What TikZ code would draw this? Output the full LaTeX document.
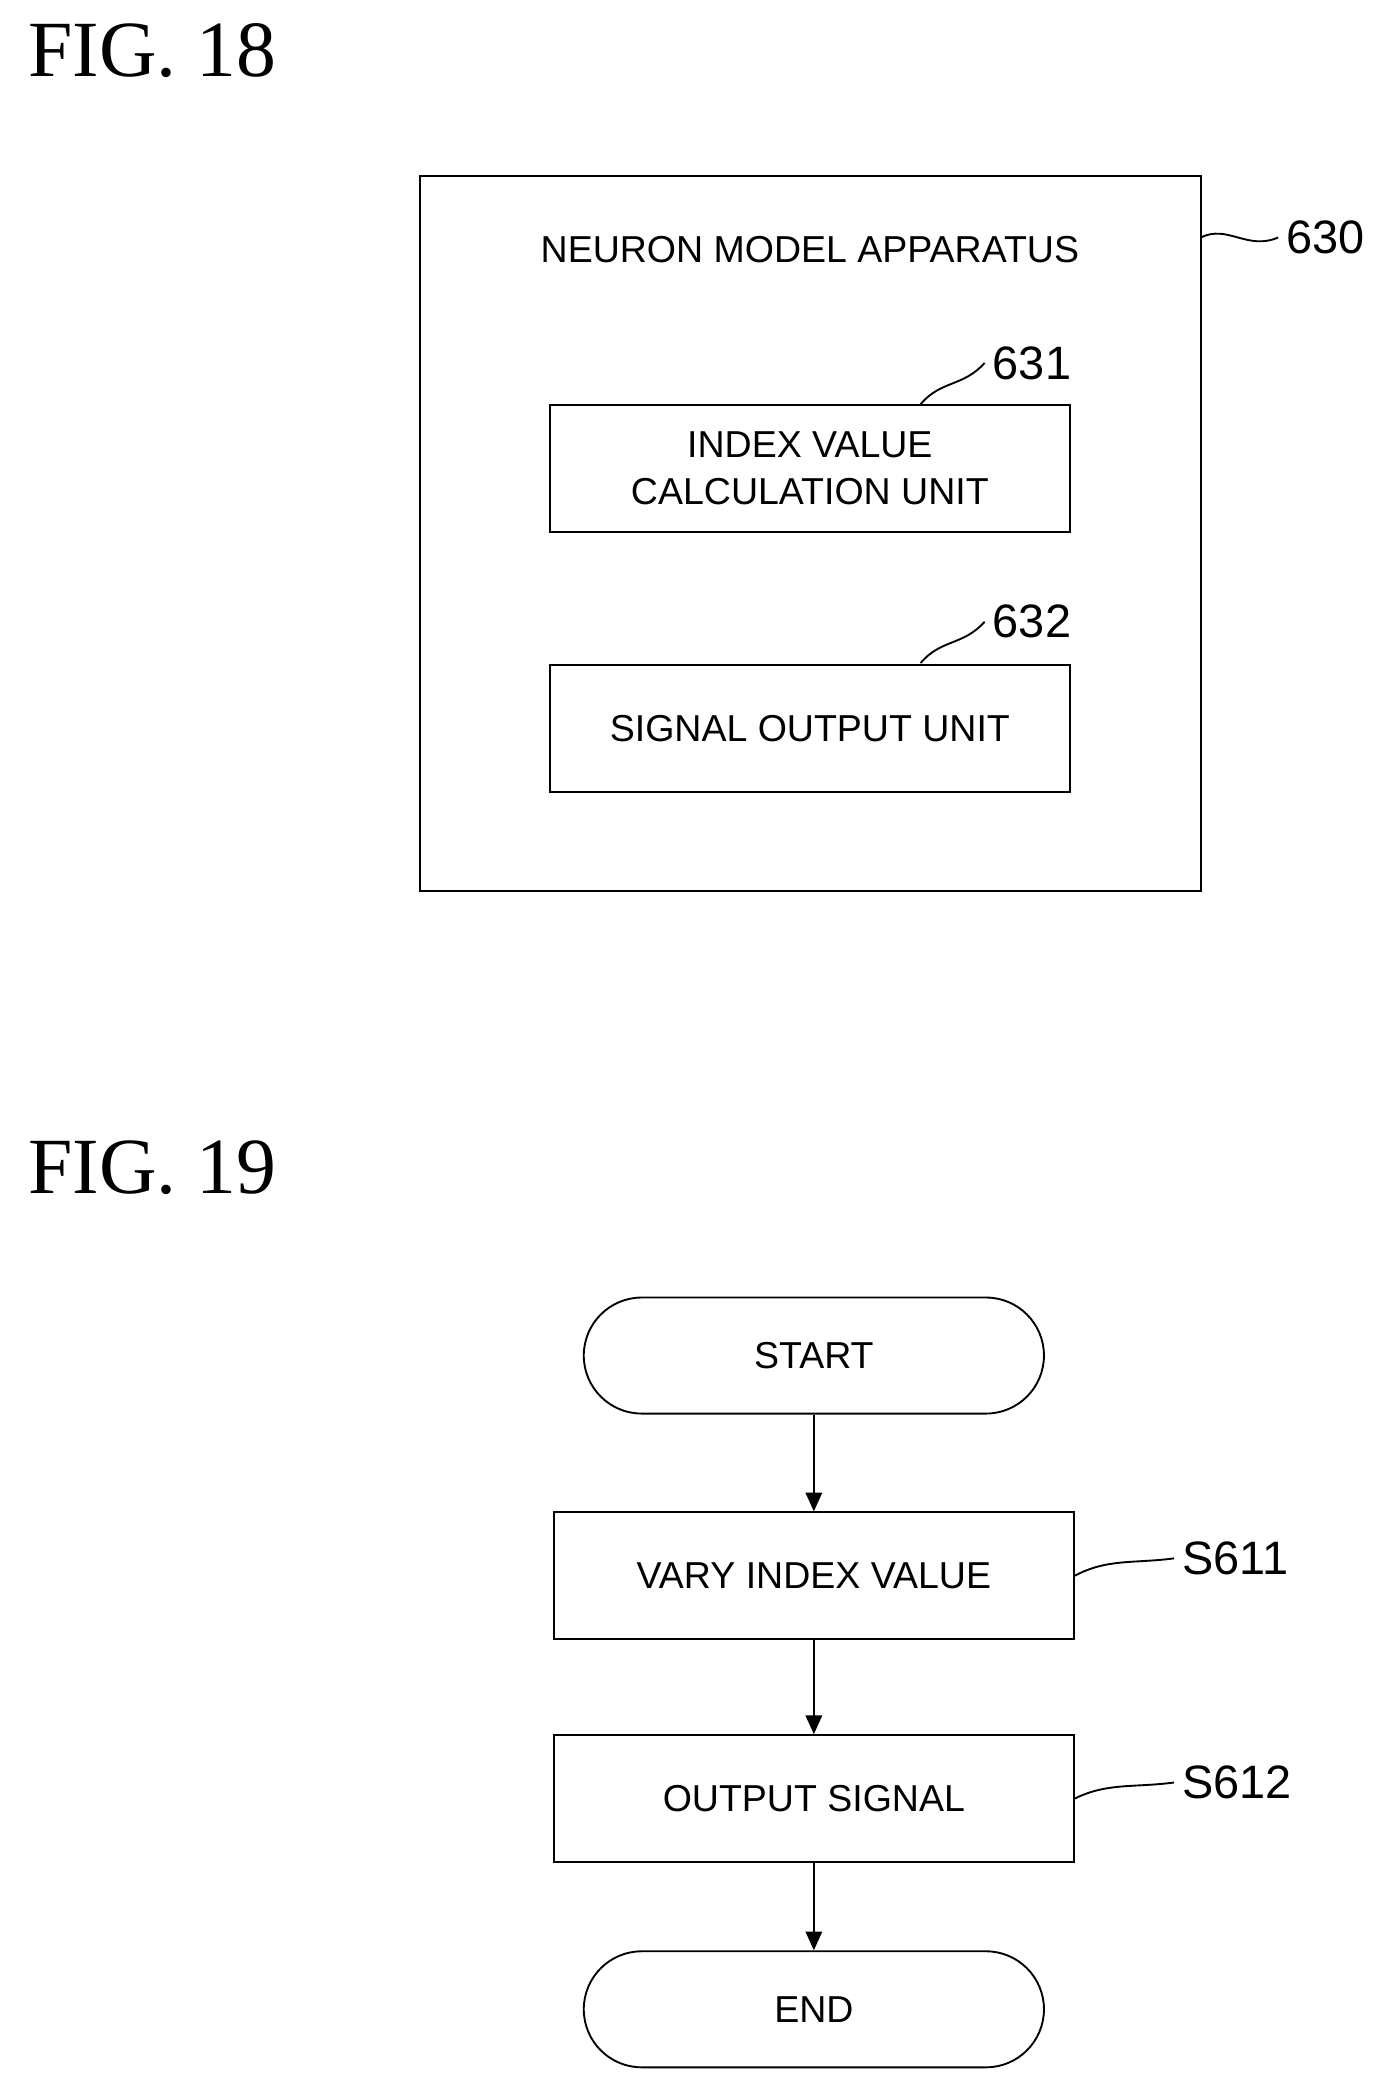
\documentclass[tikz,border=0pt]{standalone}
\usepackage{fontspec}
\setsansfont{Liberation Sans}
\setmainfont{Liberation Serif}
\usetikzlibrary{positioning, arrows.meta}
\tikzset{
  box/.style={draw, thick, minimum width=7.8cm, minimum height=1.9cm, align=center, font=\fontsize{16}{20}\sffamily},
  term/.style={draw, thick, rounded corners=0.87cm, minimum width=6.9cm, minimum height=1.74cm, font=\fontsize{16}{20}\sffamily},
  ref/.style={font=\fontsize{20}{24}\sffamily, anchor=west},
  fig/.style={font=\fontsize{34}{40}\rmfamily, anchor=west},
  lead/.style={thick},
  flow/.style={thick, -{Triangle[length=8pt, width=7pt]}}
}
\begin{document}
\begin{tikzpicture}[x=0.02cm, y=-0.02cm]
\useasboundingbox (0,0) rectangle (1047,1562);
% FIG. 18
\node[fig] (f18) at (15,38) {FIG. 18};
\draw[thick] (315,132) rectangle (900,668);
\coordinate (app) at (900,178);
\node[font=\fontsize{16}{20}\sffamily] (title) at (607,187) {NEURON MODEL APPARATUS};
\node[ref] (r630) at (958,178) {630};
\draw[lead] (app) .. controls (920,168) and (935,188) .. (r630.west);
\node[box] (calc) at (607,351) {INDEX VALUE\\CALCULATION UNIT};
\node[ref] (r631) at (738,272) {631};
\draw[lead] (690,303) .. controls (705,285) and (722,290) .. (r631.west);
\node[box] (sig) at (607,546) {SIGNAL OUTPUT UNIT};
\node[ref] (r632) at (738,466) {632};
\draw[lead] (690,497) .. controls (705,479) and (722,484) .. (r632.west);
% FIG. 19
\node[fig] (f19) at (15,875) {FIG. 19};
\node[term] (start) at (610,1016) {START};
\node[box] (s611) at (610,1181) {VARY INDEX VALUE};
\node[box] (s612) at (610,1348) {OUTPUT SIGNAL};
\node[term] (end) at (610,1506) {END};
\node[ref] (l611) at (880,1168) {S611};
\node[ref] (l612) at (880,1336) {S612};
\draw[lead] (s611.east |- 0,1181) .. controls (830,1168) and (850,1172) .. (l611.west);
\draw[lead] (s612.east |- 0,1348) .. controls (830,1336) and (850,1340) .. (l612.west);
\draw[flow] (start) -- (s611);
\draw[flow] (s611) -- (s612);
\draw[flow] (s612) -- (end);
\end{tikzpicture}
\end{document}
